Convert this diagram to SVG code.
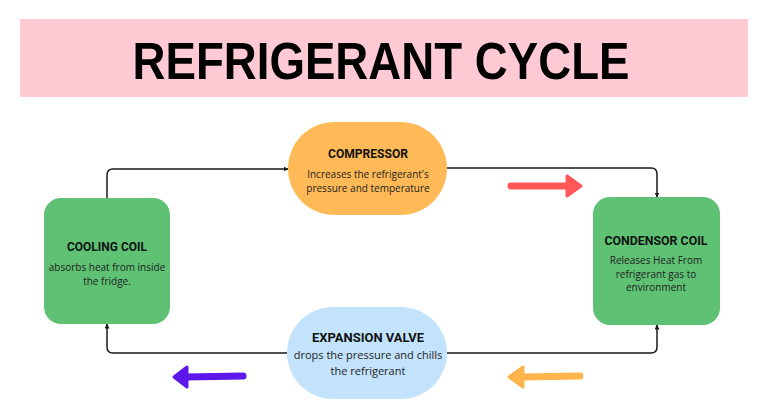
<svg xmlns="http://www.w3.org/2000/svg" width="768" height="420" viewBox="0 0 768 420">
<defs>
<marker id="ah" viewBox="0 0 10 10" refX="9" refY="5" markerWidth="5" markerHeight="5" orient="auto" markerUnits="userSpaceOnUse">
<path d="M0,0 L10,5 L0,10 z" fill="#1a1a1a"/>
</marker>
<style>
.ttl{font-family:"Roboto","Liberation Sans",sans-serif;font-weight:700;font-size:13.5px;fill:#111;text-anchor:middle}
.body{font-family:"Open Sans","Liberation Sans",sans-serif;font-size:10px;fill:#222;text-anchor:middle}
.conn{fill:none;stroke:#1a1a1a;stroke-width:1.5;marker-end:url(#ah)}
.green{fill:#5EC174}
</style>
</defs>
<rect width="768" height="420" fill="#ffffff"/>
<g id="title">
<rect x="20" y="19" width="728" height="78" fill="#FFCAD4"/>
<text x="381" y="79" font-family="Liberation Sans, sans-serif" font-weight="700" font-size="51" fill="#000" text-anchor="middle" textLength="497" lengthAdjust="spacingAndGlyphs">REFRIGERANT CYCLE</text>
</g>
<g id="connectors">
<path class="conn" d="M107,198 V175 Q107,169 113,169 H288"/>
<path class="conn" d="M447,168 H651 Q657,168 657,174 V197"/>
<path class="conn" d="M447,353 H651 Q657,353 657,347 V325"/>
<path class="conn" d="M289,353 H113 Q107,353 107,347 V324"/>
</g>
<g id="arrow-red">
<line x1="511" y1="186" x2="569" y2="186" stroke="#FF5757" stroke-width="7" stroke-linecap="round"/>
<path d="M567,176 L581,186 L567,196 z" fill="#FF5757" stroke="#FF5757" stroke-width="3" stroke-linejoin="round"/>
</g>
<g id="arrow-purple">
<line x1="243" y1="376" x2="185" y2="377" stroke="#5E17EB" stroke-width="7" stroke-linecap="round"/>
<path d="M187,367 L174,377 L187,387 z" fill="#5E17EB" stroke="#5E17EB" stroke-width="3" stroke-linejoin="round"/>
</g>
<g id="arrow-orange">
<line x1="580" y1="376" x2="521" y2="377" stroke="#FFB54C" stroke-width="7" stroke-linecap="round"/>
<path d="M523,367 L509,377 L523,387 z" fill="#FFB54C" stroke="#FFB54C" stroke-width="3" stroke-linejoin="round"/>
</g>
<g id="compressor">
<rect x="288" y="122" width="159" height="93" rx="46.5" fill="#FFBA57"/>
<text class="ttl" x="368" y="158" textLength="80" lengthAdjust="spacingAndGlyphs">COMPRESSOR</text>
<text class="body" x="368" y="178">Increases the refrigerant's</text>
<text class="body" x="368" y="191.5">pressure and temperature</text>
</g>
<g id="cooling-coil">
<rect class="green" x="44" y="198" width="126" height="126" rx="17"/>
<text class="ttl" x="107" y="251" textLength="80" lengthAdjust="spacingAndGlyphs">COOLING COIL</text>
<text class="body" x="107" y="271">absorbs heat from inside</text>
<text class="body" x="107" y="284.5">the fridge.</text>
</g>
<g id="condensor-coil">
<rect class="green" x="593" y="197" width="127" height="128" rx="17"/>
<text class="ttl" x="656" y="245" textLength="103" lengthAdjust="spacingAndGlyphs">CONDENSOR COIL</text>
<text class="body" x="656" y="264">Releases Heat From</text>
<text class="body" x="656" y="277.5">refrigerant gas to</text>
<text class="body" x="656" y="291">environment</text>
</g>
<g id="expansion-valve">
<rect x="287" y="307" width="160" height="92" rx="46" fill="#C2E3FB"/>
<text class="ttl" x="368" y="342" textLength="112" lengthAdjust="spacingAndGlyphs">EXPANSION VALVE</text>
<text class="body" x="368" y="359" style="font-size:11px">drops the pressure and chills</text>
<text class="body" x="368" y="375" style="font-size:11px">the refrigerant</text>
</g>
</svg>
